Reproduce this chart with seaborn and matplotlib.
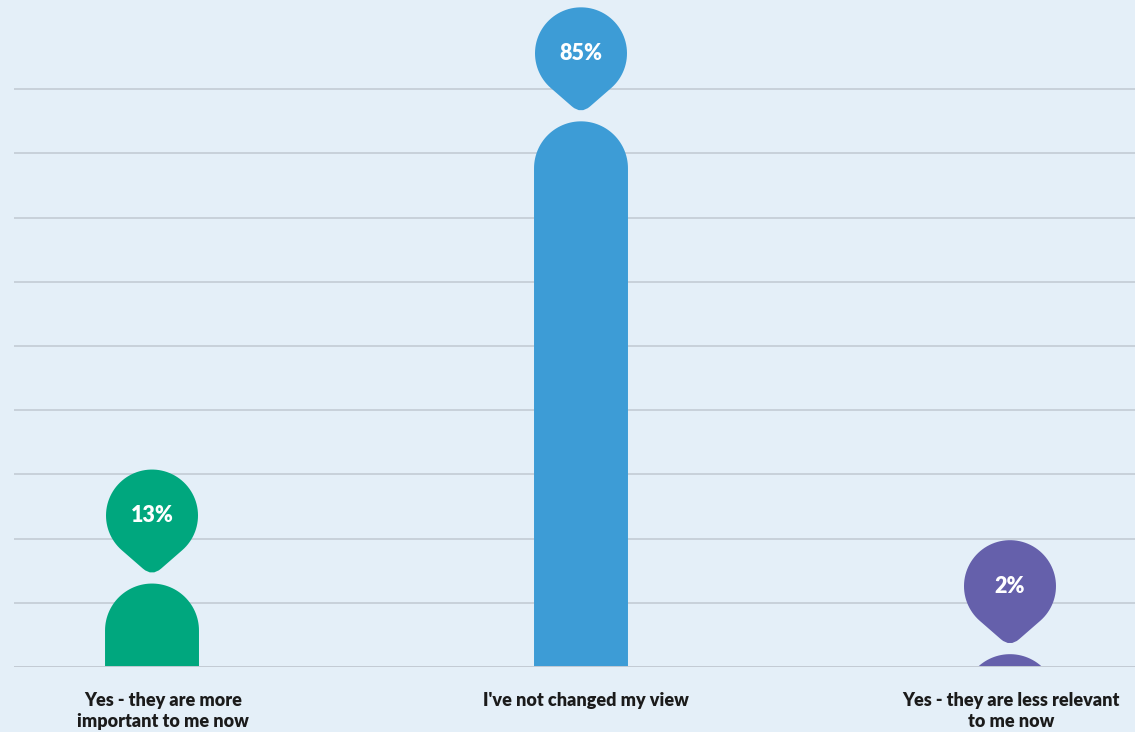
import numpy as np
import pandas as pd
import seaborn as sns
import matplotlib
matplotlib.use("Agg")
import matplotlib.pyplot as plt
import matplotlib.transforms as mtransforms
from matplotlib.path import Path
from matplotlib.patches import PathPatch

# Survey answers and shares (%)
categories = ["Yes - they are more\nimportant to me now",
              "I've not changed my view",
              "Yes - they are less relevant\nto me now"]
values = [13, 85, 2]
value_labels = ["13%", "85%", "2%"]
colors = ["#00a77e", "#3d9cd6", "#6560ab"]
grid_levels = [10, 20, 30, 40, 50, 60, 70, 80, 90]

BG = "#e4eff8"
GRID = "#c3cbd4"

sns.set_theme(style="white")
plt.rcParams["font.family"] = ["Lato", "DejaVu Sans"]

W, H, DPI = 1135, 732, 100
fig = plt.figure(figsize=(W / DPI, H / DPI), dpi=DPI, facecolor=BG)
ax = fig.add_axes([14 / W, 65 / H, 1121 / W, 667 / H])
ax.set_facecolor(BG)

df = pd.DataFrame({"answer": categories, "share": values})
sns.barplot(data=df, x="answer", y="share", hue="answer", palette=colors,
            width=0.219, legend=False, ax=ax, saturation=1)

ax.set_xlim(-0.3217, 2.2914)
ax.set_ylim(0, 103.9)

# data units per pixel
ax_w_px = 1121
ax_h_px = 667
sx = (ax.get_xlim()[1] - ax.get_xlim()[0]) / ax_w_px
sy = (ax.get_ylim()[1] - ax.get_ylim()[0]) / ax_h_px

# rebuild each bar with a semicircular top
bars = list(ax.patches)
for bar, col in zip(bars, colors):
    x0, w, h = bar.get_x(), bar.get_width(), bar.get_height()
    bar.remove()
    rx = w / 2
    ry = (rx / sx) * sy
    cx = x0 + rx
    cy = h - ry
    t = np.linspace(0, np.pi, 60)
    arc = np.column_stack([cx + rx * np.cos(t), cy + ry * np.sin(t)])
    verts = np.vstack([[x0 + w, -5], arc, [x0, -5], [x0 + w, -5]])
    codes = [Path.MOVETO] + [Path.LINETO] * (len(verts) - 2) + [Path.CLOSEPOLY]
    ax.add_patch(PathPatch(Path(verts, codes), facecolor=col, edgecolor="none",
                           zorder=2, clip_on=True))


def pin_path(cx, cy, R=46, D=61, rr=12):
    """Map-pin marker centred at (cx, cy) in data units, sizes in pixels."""
    alpha = np.degrees(np.arccos(R / D))
    a0, a1 = -90 + alpha, 270 - alpha
    th = np.radians(np.linspace(a0, a1, 80))
    pts = [(R * np.cos(a), R * np.sin(a)) for a in th]
    tip = np.array([0.0, -D])
    left = np.array(pts[-1])
    right = np.array(pts[0])
    p1 = tip + (left - tip) / np.linalg.norm(left - tip) * rr
    p2 = tip + (right - tip) / np.linalg.norm(right - tip) * rr
    verts = pts + [tuple(p1), tuple(tip), tuple(p2), pts[0]]
    codes = ([Path.MOVETO] + [Path.LINETO] * (len(pts) - 1)
             + [Path.LINETO, Path.CURVE3, Path.CURVE3, Path.CLOSEPOLY])
    verts = [(cx + vx * sx, cy + vy * sy) for vx, vy in verts]
    return Path(verts, codes)


for i, (v, lab, col) in enumerate(zip(values, value_labels, colors)):
    cy = v + (11 + 57) * sy
    ax.add_patch(PathPatch(pin_path(i, cy), facecolor=col, edgecolor="none",
                           zorder=4, clip_on=False))
    ax.text(i, cy, lab, ha="center", va="center", color="white",
            fontsize=15.5, fontweight="heavy", zorder=5)

for g in grid_levels:
    ax.axhline(g, color=GRID, lw=1.2, zorder=0)
ax.axhline(0, color=GRID, lw=1.4, zorder=3)

ax.set_yticks([])
ax.set_xlabel("")
ax.set_ylabel("")
ax.set_xticks(range(len(categories)))
ax.set_xticklabels(categories, fontsize=13, fontweight="heavy",
                   color="#1b1b1b", linespacing=1.3)
ax.tick_params(axis="x", length=0, pad=18)

# small horizontal nudges for the category captions (pixels)
nudges = [11, 5, 1]
for lbl, dx in zip(ax.get_xticklabels(), nudges):
    lbl.set_transform(lbl.get_transform() +
                      mtransforms.ScaledTranslation(dx / DPI, 0, fig.dpi_scale_trans))

for s in ax.spines.values():
    s.set_visible(False)

fig.savefig("out.png", dpi=DPI, facecolor=BG)
